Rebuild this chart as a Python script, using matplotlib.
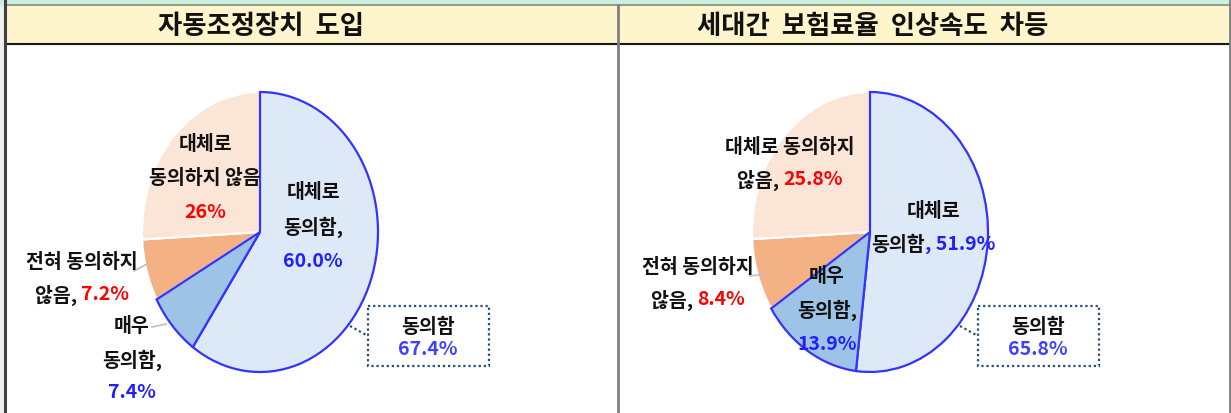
import numpy as np
import matplotlib
matplotlib.use("Agg")
import matplotlib.pyplot as plt
from matplotlib.patches import Rectangle

plt.rcParams['font.family'] = ['Noto Sans CJK KR', 'DejaVu Sans']

# Data
titles = ["자동조정장치 도입", "세대간 보험료율 인상속도 차등"]
categories = ["대체로 동의함", "매우 동의함", "전혀 동의하지 않음", "대체로 동의하지 않음"]
shares_left = [60.0, 7.4, 7.2, 26.0]
shares_right = [51.9, 13.9, 8.4, 25.8]
agree_total = ["67.4%", "65.8%"]

slice_colors = ["#dde9f6", "#9dc3e6", "#f4b183", "#fbe5d6"]
edge_colors = ["#3333ff", "#3333ff", "white", "white"]
BLUE = "#1f1fff"
RED = "#ff0000"

W, H = 1231, 414
fig = plt.figure(figsize=(W / 100, H / 100), dpi=100)
fig.patch.set_facecolor("white")


def px_axes(x0, y0, x1, y1, z):
    # axes placed by pixel box (top-left origin)
    return fig.add_axes([x0 / W, 1 - y1 / H, (x1 - x0) / W, (y1 - y0) / H], zorder=z)


# background / table frame
bg = px_axes(0, 0, W, H, 0)
bg.set_xlim(0, W)
bg.set_ylim(H, 0)
bg.axis("off")
bg.add_patch(Rectangle((0, 0), 4, H, color="#f0f0f0"))
bg.add_patch(Rectangle((0, 0), W, 5.5, color="#c9f0e1"))
bg.add_patch(Rectangle((5, 5.5), W, 39, color="#fff5cc"))
bg.plot([5, W], [5.8, 5.8], color="#8a8a70", lw=1.2)
bg.plot([5, W], [44.5, 44.5], color="#1a1a1a", lw=1.5)
bg.plot([5, 5], [0, H], color="#404040", lw=2.2)
bg.plot([617.5, 617.5], [5.5, H], color="#808080", lw=2)
bg.plot([1229.5, 1229.5], [0, H], color="#808080", lw=2)

title_x = [261, 873]
for tx, t in zip(title_x, titles):
    bg.text(tx, 26, t.replace(" ", "  "), ha="center", va="center", fontsize=19,
            fontweight="bold", color="#111111")

# pies (ellipse: x radius 118 px, y radius 140 px)
centers = [(260, 233), (870, 233)]
for (cx, cy), vals in zip(centers, [shares_left, shares_right]):
    ax = px_axes(cx - 118, cy - 140, cx + 118, cy + 140, 1)
    wedges, _ = ax.pie(vals, colors=slice_colors, startangle=90, counterclock=False,
                       radius=1, wedgeprops=dict(linewidth=1.6))
    for w, ec in zip(wedges, edge_colors):
        w.set_edgecolor(ec)
    # blue edges drawn on top of white ones
    for w in wedges[:2]:
        w.set_zorder(3)
    ax.set_aspect("auto")
    ax.set_xlim(-1, 1)
    ax.set_ylim(-1, 1)
    ax.axis("off")

# overlay for labels
ov = px_axes(0, 0, W, H, 5)
ov.set_xlim(0, W)
ov.set_ylim(H, 0)
ov.axis("off")
ov.patch.set_alpha(0)

renderer = fig.canvas.get_renderer()


def seg_line(x, y, parts, size=14):
    # draw a line of differently coloured pieces centred at x
    texts = [ov.text(0, y, s, color=c, fontsize=size, fontweight="bold", ha="left", va="center")
             for s, c in parts]
    inv = ov.transData.inverted()
    widths = []
    for t in texts:
        bb = t.get_window_extent(renderer)
        p0 = inv.transform((bb.x0, bb.y0))
        p1 = inv.transform((bb.x1, bb.y0))
        widths.append(p1[0] - p0[0])
    start = x - sum(widths) / 2
    for t, wd in zip(texts, widths):
        t.set_x(start)
        start += wd


K = "#111111"
# left chart labels
seg_line(313, 193, [("대체로", K)])
seg_line(313, 227, [("동의함,", K)])
seg_line(313, 262, [(f"{shares_left[0]:.1f}%", BLUE)])
seg_line(205, 145, [("대체로", K)])
seg_line(205, 178, [("동의하지 않음", K)])
seg_line(205, 213, [(f"{shares_left[3]:.0f}%", RED)])
seg_line(82, 263, [("전혀 동의하지", K)])
seg_line(82, 295, [("않음, ", K), (f"{shares_left[2]:.1f}%", RED)])
seg_line(132, 327, [("매우", K)])
seg_line(132, 360, [("동의함,", K)])
seg_line(132, 393, [(f"{shares_left[1]:.1f}%", BLUE)])
ov.plot([134, 147], [272, 265], color="#bfbfbf", lw=1.2)
ov.plot([152, 166], [328, 325], color="#bfbfbf", lw=1.2)

# right chart labels
seg_line(790, 148, [("대체로 동의하지", K)])
seg_line(790, 180, [("않음, ", K), (f"{shares_right[3]:.1f}%", RED)])
seg_line(933, 212, [("대체로", K)])
seg_line(933, 245, [("동의함", K), (f", {shares_right[0]:.1f}%", BLUE)])
seg_line(827, 277, [("매우", K)])
seg_line(827, 310, [("동의함,", K)])
seg_line(827, 345, [(f"{shares_right[1]:.1f}%", BLUE)])
seg_line(698, 268, [("전혀 동의하지", K)])
seg_line(698, 300, [("않음, ", K), (f"{shares_right[2]:.1f}%", RED)])
ov.plot([750, 765], [277, 275], color="#bfbfbf", lw=1.2)

# callout boxes with total agreement
for bx, tot in zip([368, 978], agree_total):
    ov.add_patch(Rectangle((bx, 307), 121, 60, fill=False, edgecolor="#1f4e79",
                           lw=1.6, linestyle=(0, (1, 1.3))))
    ov.plot([bx - 18, bx], [327, 337], color="#1f4e79", lw=1.6, linestyle=(0, (1, 1.3)))
    seg_line(bx + 60, 327, [("동의함", K)])
    seg_line(bx + 60, 350, [(tot, "#4040ff")])

fig.savefig("out.png", dpi=100)
